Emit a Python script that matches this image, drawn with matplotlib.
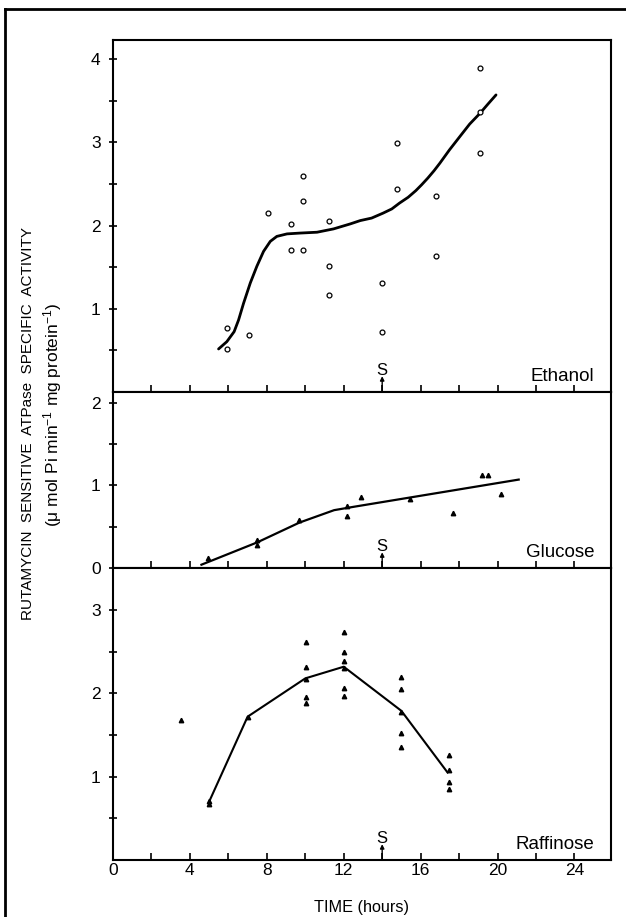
import numpy as np
import matplotlib
matplotlib.use('Agg')
import matplotlib.pyplot as plt
from matplotlib.lines import Line2D
from matplotlib.ticker import FixedLocator, NullFormatter, FixedFormatter

plt.rcParams['font.family'] = ['Liberation Sans', 'DejaVu Sans']
plt.rcParams['mathtext.fontset'] = 'custom'
plt.rcParams['mathtext.rm'] = 'Liberation Sans'
plt.rcParams['mathtext.default'] = 'regular'

# ethanol: scattered points and smooth curve
eth_t = [5.95, 5.95, 7.05, 8.04, 9.27, 9.27, 9.86, 9.86, 9.86, 11.25, 11.25, 11.25,
         14.0, 14.0, 14.75, 14.75, 16.8, 16.8, 19.1, 19.1, 19.1]
eth_v = [0.77, 0.52, 0.685, 2.15, 2.02, 1.71, 2.59, 2.30, 1.71, 2.05, 1.51, 1.17,
         1.31, 0.72, 2.99, 2.44, 2.35, 1.63, 3.89, 3.37, 2.87]
eth_curve_t = [5.49, 5.92, 6.30, 6.53, 6.79, 7.14, 7.48, 7.83, 8.18, 8.52, 9.05, 9.74,
               10.61, 11.47, 12.34, 12.86, 13.45, 14.05, 14.5, 14.9, 15.35, 15.75,
               16.05, 16.37, 16.7, 17.0, 17.5, 18.04, 18.55, 19.09, 19.5, 19.92]
eth_curve_v = [0.517, 0.605, 0.725, 0.865, 1.066, 1.31, 1.51, 1.69, 1.81, 1.87, 1.90, 1.91,
               1.92, 1.96, 2.02, 2.06, 2.09, 2.15, 2.20, 2.27, 2.34, 2.42,
               2.49, 2.57, 2.66, 2.75, 2.91, 3.07, 3.22, 3.35, 3.46, 3.57]

# glucose
glu_t = [4.94, 7.5, 7.5, 9.65, 12.19, 12.19, 12.92, 15.46, 17.7, 19.17, 19.5, 20.2]
glu_v = [0.12, 0.34, 0.28, 0.58, 0.75, 0.63, 0.86, 0.84, 0.67, 1.12, 1.13, 0.90]
glu_line_t = [4.6, 7.5, 9.7, 11.5, 12.5, 21.1]
glu_line_v = [0.04, 0.31, 0.55, 0.70, 0.74, 1.07]

# raffinose
raf_t = [3.53, 4.99, 4.99, 7.0, 10.02, 10.02, 10.02, 10.02, 10.02,
         12.02, 12.02, 12.02, 12.02, 12.02, 12.02, 15.0, 15.0, 15.0, 15.0, 15.0,
         17.5, 17.5, 17.5, 17.5]
raf_v = [1.68, 0.71, 0.67, 1.72, 2.62, 2.32, 2.17, 1.96, 1.88,
         2.74, 2.50, 2.39, 2.31, 2.07, 1.97, 2.20, 2.05, 1.78, 1.53, 1.36,
         1.26, 1.08, 0.94, 0.85]
raf_line_t = [5.0, 7.0, 10.0, 12.0, 15.0, 17.4]
raf_line_v = [0.70, 1.72, 2.18, 2.32, 1.79, 1.05]

names = ['Ethanol', 'Glucose', 'Raffinose']
ylims = [4.23, 2.13, 3.505]
ymaj = [[1, 2, 3, 4], [0, 1, 2], [1, 2, 3]]
ymin = [[0.5, 1.5, 2.5, 3.5], [0.5, 1.5], [0.5, 1.5, 2.5]]
xlabels = ['0', '4', '8', '12', '16', '20', '24']
shift_t = 14

fig = plt.figure(figsize=(6.26, 9.17), dpi=100)
left, width = 113/626, 498/626
boxes = [(40, 392), (392, 568), (568, 860)]
axes = []
for i, (top, bot) in enumerate(boxes):
    ax = fig.add_axes([left, 1 - bot/917, width, (bot - top)/917])
    ax.set_xlim(0, 25.9)
    ax.set_ylim(0, ylims[i])
    for s in ax.spines.values():
        s.set_linewidth(1.5)
    ax.xaxis.set_major_locator(FixedLocator([0, 4, 8, 12, 16, 20, 24]))
    ax.xaxis.set_minor_locator(FixedLocator([2, 6, 10, 14, 18, 22]))
    ax.yaxis.set_major_locator(FixedLocator(ymaj[i]))
    ax.yaxis.set_minor_locator(FixedLocator(ymin[i]))
    ax.yaxis.set_major_formatter(FixedFormatter([str(v) for v in ymaj[i]]))
    ax.tick_params(axis='x', which='both', direction='in', length=5, width=1.2,
                   pad=2, labelsize=12.5, top=False)
    ax.tick_params(axis='y', which='both', direction='inout', length=6, width=1.2,
                   pad=6, labelsize=12.5, right=False)
    if i < 2:
        ax.xaxis.set_major_formatter(NullFormatter())
    else:
        ax.xaxis.set_major_formatter(FixedFormatter(xlabels))
    ax.text(0.966, 0.13, names[i], transform=ax.get_yaxis_transform(),
            ha='right', va='baseline', fontsize=13.5)
    ax.text(shift_t, 0.21, 'S', ha='center', va='baseline', fontsize=12)
    ax.annotate('', xy=(shift_t, 0.19), xytext=(shift_t, 0),
                arrowprops=dict(arrowstyle='-|>', lw=1, color='k', mutation_scale=6,
                                shrinkA=0, shrinkB=0))
    axes.append(ax)

ax1, ax2, ax3 = axes
ax1.plot(eth_curve_t, eth_curve_v, color='k', lw=2, solid_capstyle='round',
         solid_joinstyle='round')
ax1.plot(eth_t, eth_v, 'o', ms=3.5, mfc='white', mec='k', mew=0.9)

ax2.plot(glu_line_t, glu_line_v, color='k', lw=1.6)
ax2.plot(glu_t, glu_v, '^', ms=3.2, color='k')

ax3.plot(raf_line_t, raf_line_v, color='k', lw=1.5)
ax3.plot(raf_t, raf_v, '^', ms=3.2, color='k')

ax3.set_xlabel('TIME (hours)', fontsize=11.7, labelpad=16)

fig.text(28/626, 1 - 424/917, 'RUTAMYCIN  SENSITIVE  ATPase  SPECIFIC  ACTIVITY',
         rotation=90, ha='center', va='center', fontsize=11)
fig.text(53/626, 1 - 415/917, '(\u03bc mol Pi min$^{-1}$ mg protein$^{-1}$)',
         rotation=90, ha='center', va='center', fontsize=12.5)

# outer frame (only top and left edges show)
fig.add_artist(Line2D([5/626, 5/626], [0, 1 - 9/917], color='k', lw=2))
fig.add_artist(Line2D([5/626, 1], [1 - 9/917, 1 - 9/917], color='k', lw=2))

fig.savefig('out.png', dpi=100)
